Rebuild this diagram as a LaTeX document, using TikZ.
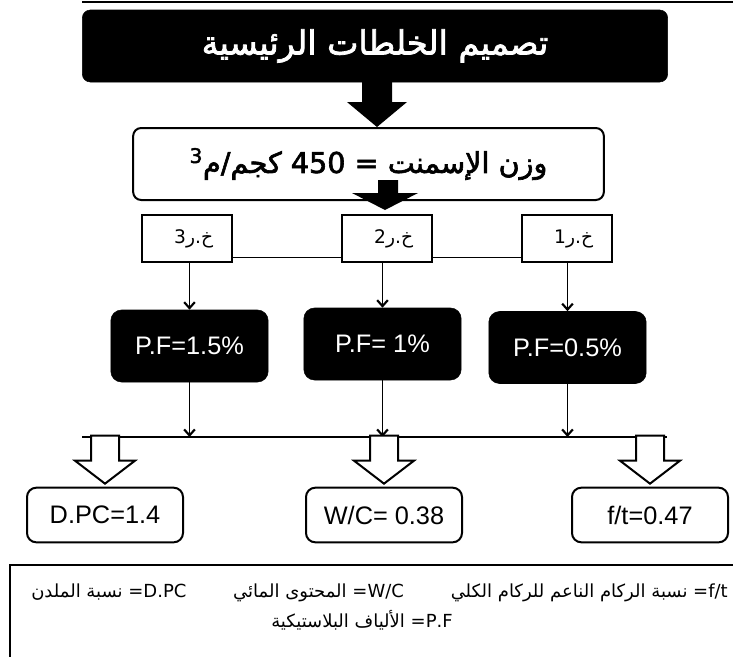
\documentclass[tikz,border=0pt]{standalone}
\usepackage{fontspec}
\setmainfont{Liberation Sans}
\newfontfamily\arabicfont[Script=Arabic]{DejaVu Sans}
\newfontfamily\arabicbold[Script=Arabic,FakeBold=2.2]{DejaVu Sans}
\TeXXeTstate=1
\usetikzlibrary{arrows.meta,positioning,calc}

\begin{document}
\begin{tikzpicture}[x=0.75pt,y=-0.75pt,
    titlebox/.style={rounded corners=6pt,fill=black,draw=black,text=white,
                     minimum width=439pt,minimum height=54pt},
    mainbox/.style={rounded corners=6pt,draw,line width=1.5pt,fill=white,
                    minimum width=353pt,minimum height=54pt},
    mixbox/.style={draw,line width=1.5pt,fill=white,minimum width=67pt,minimum height=35pt,
                   font=\fontsize{14}{16}\selectfont},
    pfbox/.style={rounded corners=8pt,fill=black,draw=black,text=white,
                  minimum width=118pt,minimum height=54pt,font=\fontsize{19}{22}\selectfont},
    resbox/.style={rounded corners=7pt,draw,line width=1.5pt,fill=white,
                   minimum width=117pt,minimum height=41pt,font=\fontsize{19}{22}\selectfont},
    arr/.style={-{Straight Barb[length=4.5pt,width=8pt,line width=1.6pt]},line width=1.2pt},
    hollowarr/.style={draw,line width=1.5pt,fill=white,line join=miter}]
  \useasboundingbox (0,0) rectangle (733,657);
  \draw[line width=0.8pt] (82,2) -- (733,2);
  % title and cement content
  \node[titlebox] (title) at (375,46)
    {\fontsize{25}{30}\arabicbold\beginR تصميم الخلطات الرئيسية\endR};
  \node[mainbox] (cement) at (368.5,164)
    {\fontsize{21.5}{26}\arabicbold\beginR وزن الإسمنت = \beginL 450\endL{} كجم/م\textsuperscript{3}\endR};
  \coordinate (tip1) at (377,127);
  \fill (tip1) -- ++(-30,-25) -- ++(15,0) -- ++(0,-23) -- ++(30,0) -- ++(0,23) -- ++(15,0) -- cycle;
  % the three mixes
  \node[mixbox] (m3) at (187,238.5) {\hspace*{10pt}\arabicfont\beginR خ.ر3\endR};
  \node[mixbox] (m2) at (387,238.5) {\hspace*{10pt}\arabicfont\beginR خ.ر2\endR};
  \node[mixbox] (m1) at (567,238.5) {\hspace*{10pt}\arabicfont\beginR خ.ر1\endR};
  \draw[line width=1.2pt] ([yshift=4pt]m3.south east) -- ([yshift=4pt]m2.south west);
  \draw[line width=1.2pt] ([yshift=4pt]m2.south east) -- ([yshift=4pt]m1.south west);
  \coordinate (tip2) at (385,210);
  \fill (tip2) -- ++(-33,-17) -- ++(26,0) -- ++(0,-13) -- ++(20,0) -- ++(0,13) -- ++(20,0) -- cycle;
  % fibre contents
  \node[pfbox] (pf3) at (189.5,346) {P.F=1.5\%};
  \node[pfbox] (pf2) at (382.5,344) {P.F= 1\%};
  \node[pfbox] (pf1) at (567.5,347.5) {P.F=0.5\%};
  \draw[arr] (pf3.north |- m3.south) -- (pf3.north);
  \draw[arr] (pf2.north |- m2.south) -- (pf2.north);
  \draw[arr] (pf1.north |- m1.south) -- (pf1.north);
  \coordinate (barL) at (82,437);
  \coordinate (barR) at (667,437);
  \draw[line width=1.5pt] (barL) -- (barR);
  \draw[arr] (pf3.south) -- (pf3.south |- barL);
  \draw[arr] (pf2.south) -- (pf2.south |- barL);
  \draw[arr] (pf1.south) -- (pf1.south |- barL);
  % results
  \node[resbox] (r1) at (105,515) {D.PC=1.4};
  \node[resbox] (r2) at (384,515) {W/C= 0.38};
  \node[resbox] (r3) at (650,515) {f/t=0.47};
  \foreach \r in {r1,r2,r3}
    \draw[hollowarr] ($(\r.north)+(0,-3)$) -- ++(-30,-23) -- ++(16,0) -- ++(0,-25)
      -- ++(28,0) -- ++(0,25) -- ++(16,0) -- cycle;
  % legend
  \draw[line width=1.5pt] (10,657) -- (10,565) -- (733,565);
  \node[anchor=east,inner sep=0pt] (key1) at (728,593) {\fontsize{13.5}{16}\arabicfont\beginR
    \beginL f/t\endL= نسبة الركام الناعم للركام الكلي\hspace{2.6em}\beginL W/C\endL= المحتوى المائي\hspace{2.6em}\beginL D.PC\endL= نسبة الملدن\endR};
  \node[inner sep=0pt] (key2) at (362,620) {\fontsize{13.5}{16}\arabicfont\beginR
    \beginL P.F\endL= الألياف البلاستيكية\endR};
\end{tikzpicture}
\end{document}
